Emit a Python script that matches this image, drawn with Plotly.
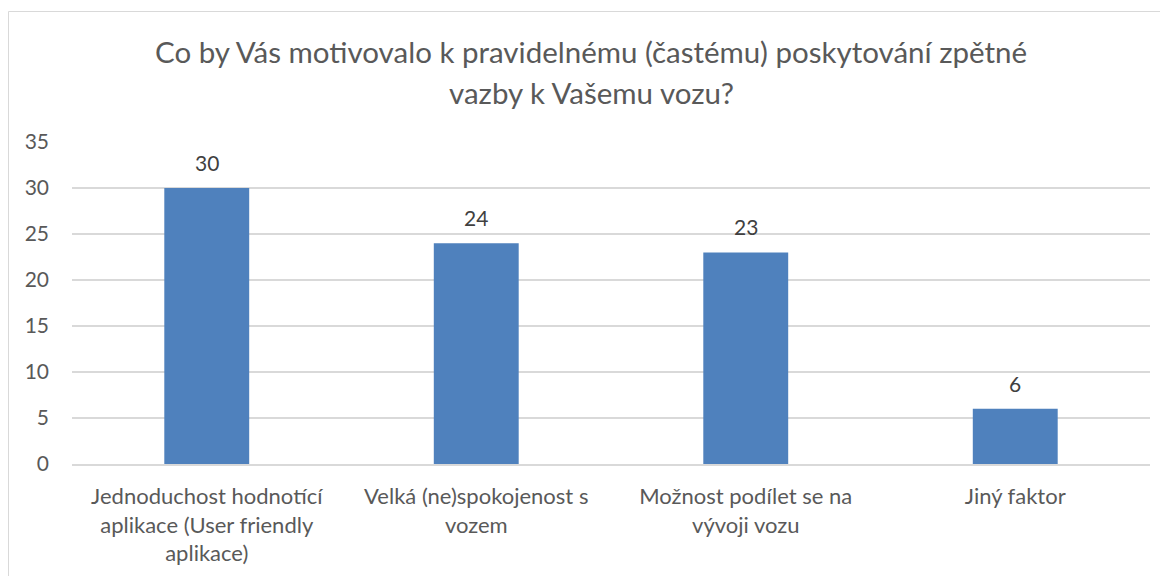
import plotly.graph_objects as go

# Data
categories = [
    "Jednoduchost hodnotící<br>aplikace (User friendly<br>aplikace)",
    "Velká (ne)spokojenost s<br>vozem",
    "Možnost podílet se na<br>vývoji vozu",
    "Jiný faktor",
]
values = [30, 24, 23, 6]
y_ticks = [0, 5, 10, 15, 20, 25, 30, 35]
title_lines = [
    "Co by Vás motivovalo k pravidelnému (častému) poskytování zpětné",
    "vazby k Vašemu vozu?",
]

FONT = "Lato, Carlito, Calibri, sans-serif"
GREY = "#595959"
GRID = "#D9D9D9"

# page has an 8px body margin, so figure coords = screen coords - 8
OFF = 8
L, R, T, B = 72 - OFF, 1150 - OFF, 142 - OFF, 464 - OFF
W, H = 1168, 576
PW, PH = R - L, B - T

fig = go.Figure()
fig.add_trace(go.Bar(
    x=categories, y=values,
    marker=dict(color="#4F81BD", line=dict(width=0)),
    width=0.315,
    hoverinfo="x+y",
))

# data labels above bars
for c, v in zip(categories, values):
    fig.add_annotation(x=c, y=v, text=str(v), showarrow=False,
                       yanchor="bottom", yshift=11,
                       font=dict(family=FONT, size=21, color="#404040"))

# title, two lines placed separately for Excel-like spacing
for i, line in enumerate(title_lines):
    fig.add_annotation(xref="paper", yref="paper", x=(591 - OFF - L) / PW,
                       y=(B - (51 - OFF + 41 * i)) / PH, text=line, showarrow=False,
                       xanchor="center", yanchor="middle",
                       font=dict(family=FONT, size=29.5, color=GREY))

# chart frame (extends past right/bottom edge like the screenshot)
fig.add_shape(type="rect", xref="paper", yref="paper",
              x0=(0.5 - L) / PW, x1=1.2, y0=-1.0, y1=(B - 3.5) / PH,
              line=dict(color=GRID, width=1), fillcolor="rgba(0,0,0,0)", layer="below")

fig.update_layout(
    width=W, height=H, autosize=False,
    margin=dict(l=L, r=W - R, t=T, b=H - B),
    paper_bgcolor="white", plot_bgcolor="white",
    showlegend=False,
    font=dict(family=FONT, size=21, color=GREY),
)
fig.update_xaxes(showgrid=False, showline=True, linecolor=GRID, linewidth=1.5,
                 ticks="", ticklabelstandoff=12, tickfont=dict(size=22, color=GREY))
fig.update_yaxes(range=[0, 35], tickvals=y_ticks, showgrid=True, gridcolor=GRID,
                 gridwidth=1.5, zeroline=False, showline=False, ticks="",
                 ticklabelstandoff=22, tickfont=dict(size=21, color=GREY))

fig.write_html("out.html")
